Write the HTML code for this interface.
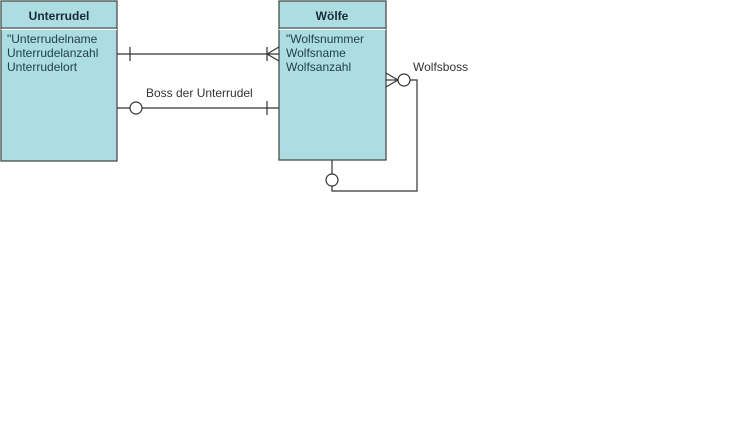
<!DOCTYPE html>
<html><head><style>
body{margin:0;background:#fff;width:750px;height:430px;overflow:hidden;font-family:"Liberation Sans",sans-serif}
</style></head><body>
<svg width="750" height="430" xmlns="http://www.w3.org/2000/svg" font-family="Liberation Sans, sans-serif">
<rect x="1" y="1" width="116" height="160" fill="#acdde3" stroke="#404040" stroke-width="1.2"/>
<line x1="1" y1="28" x2="117" y2="28" stroke="#404040"/>
<line x1="1" y1="29.5" x2="117" y2="29.5" stroke="#fff"/>
<text x="59" y="20" text-anchor="middle" font-size="12" font-weight="bold" fill="#1a2a33">Unterrudel</text>
<g font-size="12" fill="#22404a">
<text x="7" y="43">"Unterrudelname</text>
<text x="7" y="57">Unterrudelanzahl</text>
<text x="7" y="71">Unterrudelort</text>
</g>
<rect x="279" y="1" width="107" height="159" fill="#acdde3" stroke="#404040" stroke-width="1.2"/>
<line x1="279" y1="28" x2="386" y2="28" stroke="#404040"/>
<line x1="279" y1="29.5" x2="386" y2="29.5" stroke="#fff"/>
<text x="332" y="20" text-anchor="middle" font-size="12" font-weight="bold" fill="#1a2a33">Wölfe</text>
<g font-size="12" fill="#22404a">
<text x="286" y="43">"Wolfsnummer</text>
<text x="286" y="57">Wolfsname</text>
<text x="286" y="71">Wolfsanzahl</text>
</g>
<g stroke="#333" stroke-width="1.2" fill="none">
<line x1="117" y1="54" x2="279" y2="54"/>
<line x1="130" y1="47" x2="130" y2="61"/>
<line x1="267" y1="47" x2="267" y2="61"/>
<line x1="267" y1="54" x2="279" y2="47"/>
<line x1="267" y1="54" x2="279" y2="61"/>
<line x1="117" y1="108" x2="279" y2="108"/>
<line x1="267" y1="101" x2="267" y2="115"/>
<circle cx="136" cy="108" r="6" fill="#fff"/>
<line x1="386" y1="73" x2="398" y2="80"/>
<line x1="386" y1="87" x2="398" y2="80"/>
<line x1="386" y1="80" x2="398" y2="80"/>
<polyline points="410,80 417,80 417,191 332,191 332,160"/>
<circle cx="404" cy="80" r="6" fill="#fff"/>
<circle cx="332" cy="180" r="6" fill="#fff"/>
</g>
<text x="146" y="97" font-size="12" fill="#333">Boss der Unterrudel</text>
<text x="413" y="71" font-size="12" fill="#333">Wolfsboss</text>
</svg>
</body></html>
